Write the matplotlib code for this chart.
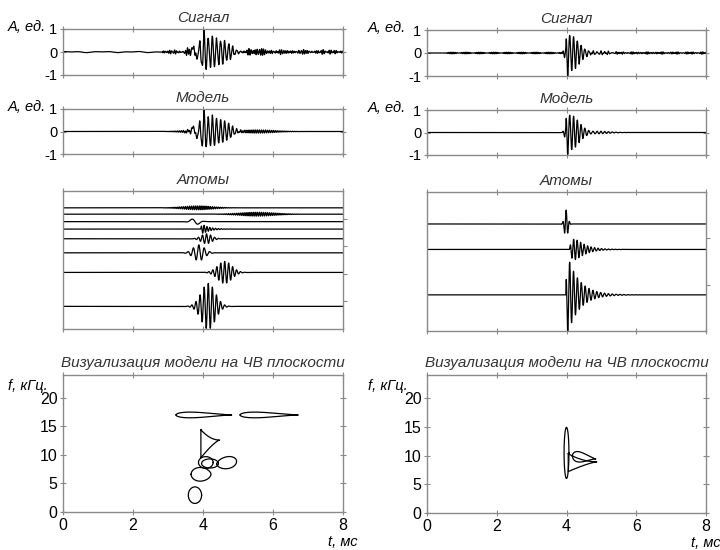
import numpy as np
import matplotlib
matplotlib.use('Agg')
import matplotlib.pyplot as plt

plt.rcParams['font.family'] = ['Liberation Sans', 'DejaVu Sans']

# время, мс
t_lim = (0.0, 8.0)
dt = 0.002

# атомы левого сигнала (t0 мс, f кГц, ширина мс, амплитуда, смещение на графике)
left_kind = ['gauss', 'gauss', 'gauss', 'damped', 'gauss', 'gauss', 'gauss', 'gauss']
left_t0 = [3.85, 5.55, 3.77, 3.93, 4.10, 3.88, 4.62, 4.15]
left_freq = [17.0, 17.0, 2.6, 12.3, 8.6, 6.4, 8.8, 8.5]
left_width = [0.42, 0.50, 0.12, 0.20, 0.15, 0.16, 0.20, 0.20]
left_rise = [0, 0, 0, 0.03, 0, 0, 0, 0]
left_amp = [0.07, 0.07, 0.12, 0.15, 0.18, 0.29, 0.40, 0.83]
left_phase = [0, 0, np.pi / 2, 0, 0, 0, 0, 0]
left_base = [4.39, 4.16, 3.89, 3.62, 3.27, 2.76, 2.05, 0.82]

# остаток (шум) левого сигнала: начало, конец, f, амплитуда
left_noise_t0 = [0.0, 0.0, 2.85, 2.85, 2.85, 2.85, 2.85, 2.85]
left_noise_t1 = [2.9, 2.9, 8.0, 8.0, 8.0, 8.0, 8.0, 8.0]
left_noise_f = [1.1, 2.3, 16.0, 19.3, 12.7, 21.7, 14.1, 17.6]
left_noise_amp = [0.015, 0.012, 0.03, 0.025, 0.02, 0.025, 0.02, 0.02]

# атомы правого сигнала
right_kind = ['gauss', 'damped', 'damped']
right_t0 = [3.99, 4.08, 3.98]
right_freq = [10.4, 10.0, 9.0]
right_width = [0.05, 0.28, 0.34]
right_rise = [0, 0.12, 0.02]
right_amp = [0.30, 0.22, 0.78]
right_phase = [0, 0, np.pi / 2]
right_base = [2.31, 1.76, 0.78]

right_noise_t0 = [0.5, 0.5, 4.5]
right_noise_t1 = [8.0, 8.0, 8.0]
right_noise_f = [18.5, 21.0, 14.0]
right_noise_amp = [0.02, 0.015, 0.02]

# контуры на ЧВ плоскости
left_tf_kind = ['tear', 'tear', 'onset', 'ellipse', 'ellipse', 'egg', 'egg_l', 'ellipse']
left_tf_t_lo = [3.23, 5.06, 3.94, 3.87, 3.96, 3.66, 4.39, 3.58]
left_tf_t_hi = [4.82, 6.72, 4.47, 4.29, 4.44, 4.23, 4.96, 3.96]
left_tf_f_lo = [16.5, 16.5, 9.5, 7.65, 7.7, 5.4, 7.8, 1.5]
left_tf_f_hi = [17.5, 17.5, 14.4, 9.7, 9.3, 7.8, 9.9, 4.4]
left_tf_f_tip = [17.0, 17.0, 12.6, 8.7, 8.5, 6.6, 8.4, 2.95]

right_tf_kind = ['ellipse', 'onset', 'tear']
right_tf_t_lo = [3.93, 4.05, 4.17]
right_tf_t_hi = [4.07, 4.87, 4.84]
right_tf_f_lo = [6.0, 7.2, 9.0]
right_tf_f_hi = [14.9, 10.3, 10.8]
right_tf_f_tip = [10.4, 8.9, 9.4]

GRAY = '#8a8a8a'
TXT = '#333333'
W, H = 720, 550


def atom(t, kind, t0, f, w, rise, a, ph):
    if kind == 'gauss':
        env = np.exp(-0.5 * ((t - t0) / w) ** 2)
        return a * env * np.cos(2 * np.pi * f * (t - t0) + ph)
    s = np.clip(t - t0, 0, None)
    env = (1 - np.exp(-s / rise)) * np.exp(-s / w)
    env = env / env.max()
    return a * env * np.cos(2 * np.pi * f * s + ph - np.pi / 2)


def build(t, kind, t0, f, w, rise, a, ph):
    return [atom(t, *p) for p in zip(kind, t0, f, w, rise, a, ph)]


def noise(t, t0, t1, f, a):
    out = np.zeros_like(t)
    for k, (s, e, fr, am) in enumerate(zip(t0, t1, f, a)):
        win = ((t >= s) & (t <= e)).astype(float)
        out += am * win * np.sin(2 * np.pi * fr * t + 1.3 * k)
    return out


def tf_outline(kind, tlo, thi, flo, fhi, ftip):
    if kind == 'ellipse':
        th = np.linspace(0, 2 * np.pi, 200)
        return ((tlo + thi) / 2 + (thi - tlo) / 2 * np.cos(th),
                (flo + fhi) / 2 + (fhi - flo) / 2 * np.sin(th))
    u = np.linspace(0, 1, 200)
    if kind == 'onset':
        up = ftip + (fhi - ftip) * (1 - u) ** 2
        lo = ftip - (ftip - flo) * (1 - u) ** 1.3
    else:
        p = 1.5 if kind == 'tear' else 0.6
        uu = u if kind != 'egg_l' else 1 - u
        h = np.sqrt(uu) * (1 - uu) ** p
        h = h / h.max() * (fhi - flo) / 2
        fc = (flo + fhi) / 2
        c = fc + (ftip - fc) * uu
        up, lo = c + h, c - h
    x = tlo + u * (thi - tlo)
    return (np.concatenate([x, x[::-1], x[:1]]),
            np.concatenate([up, lo[::-1], up[:1]]))


def add_ax(fig, x0, y0, x1, y1):
    ax = fig.add_axes([x0 / W, 1 - y1 / H, (x1 - x0) / W, (y1 - y0) / H])
    for s in ax.spines.values():
        s.set_color(GRAY)
        s.set_linewidth(1.0)
    ax.tick_params(direction='inout', length=4, color=GRAY, width=0.8,
                   top=True, right=True, labelsize=10.5, pad=2)
    ax.set_xlim(*t_lim)
    ax.set_xticks([0, 2, 4, 6, 8])
    return ax


def wave_ax(fig, box, t, y, title, title_y, lab_x, lab_y):
    ax = add_ax(fig, *box)
    ax.plot(t, y, color='black', lw=0.9)
    ax.set_ylim(-1, 1)
    ax.set_yticks([-1, 0, 1])
    ax.set_yticklabels(['-1', '0', '1'])
    ax.set_xticklabels([])
    fig.text((box[0] + box[2]) / 2 / W, 1 - title_y / H, title, style='italic',
             color=TXT, fontsize=11, ha='center', va='center')
    fig.text(lab_x / W, 1 - lab_y / H, 'A, ед.', style='italic', fontsize=10.5,
             ha='left', va='center')
    return ax


def column(fig, x0, x1, rows, atoms, base, n_div, nz, tf, lab_x):
    t = np.arange(t_lim[0], t_lim[1] + dt / 2, dt)
    parts = build(t, *atoms)
    model = np.sum(parts, axis=0)
    signal = model + noise(t, *nz)
    cx = (x0 + x1) / 2

    wave_ax(fig, (x0, rows[0][0], x1, rows[0][1]), t, signal, 'Сигнал', rows[0][0] - 11,
            lab_x, rows[0][0] - 2)
    wave_ax(fig, (x0, rows[1][0], x1, rows[1][1]), t, model, 'Модель', rows[1][0] - 11,
            lab_x, rows[1][0] - 2)

    ax = add_ax(fig, x0, rows[2][0], x1, rows[2][1])
    for p, b in zip(parts, base):
        ax.plot(t, p + b, color='black', lw=0.9)
    ax.set_ylim(0, n_div)
    ax.yaxis.tick_right()
    ax.tick_params(axis='y', direction='out', length=3)
    ax.set_yticks(range(1, n_div))
    ax.set_yticklabels([])
    ax.set_xticklabels([])
    fig.text(cx / W, 1 - (rows[2][0] - 11) / H, 'Атомы', style='italic', color=TXT,
             fontsize=11, ha='center', va='center')

    ax = add_ax(fig, x0, rows[3][0], x1, rows[3][1])
    for shape in zip(*tf):
        xs, ys = tf_outline(*shape)
        ax.plot(xs, ys, color='black', lw=0.9)
    ax.set_ylim(0, 24)
    ax.set_yticks([0, 5, 10, 15, 20])
    ax.tick_params(labelsize=11.5)
    fig.text(cx / W, 1 - (rows[3][0] - 12) / H, 'Визуализация модели на ЧВ плоскости',
             style='italic', color=TXT, fontsize=11, ha='center', va='center')
    fig.text(lab_x / W, 1 - (rows[3][0] + 11) / H, 'f, кГц.', style='italic',
             fontsize=10.5, ha='left', va='center')
    fig.text(x1 / W + 0.02, 1 - (rows[3][1] + 30) / H, 't, мс', style='italic',
             fontsize=10.5, ha='right', va='center')


def main():
    fig = plt.figure(figsize=(7.2, 5.5), dpi=100)

    column(fig, 63, 343, [(29, 75), (109, 154), (191, 329), (375, 512)],
           (left_kind, left_t0, left_freq, left_width, left_rise, left_amp, left_phase),
           left_base, 5,
           (left_noise_t0, left_noise_t1, left_noise_f, left_noise_amp),
           (left_tf_kind, left_tf_t_lo, left_tf_t_hi, left_tf_f_lo, left_tf_f_hi, left_tf_f_tip),
           8)
    column(fig, 427, 706, [(30, 76), (110, 155), (192, 331), (375, 513)],
           (right_kind, right_t0, right_freq, right_width, right_rise, right_amp, right_phase),
           right_base, 3,
           (right_noise_t0, right_noise_t1, right_noise_f, right_noise_amp),
           (right_tf_kind, right_tf_t_lo, right_tf_t_hi, right_tf_f_lo, right_tf_f_hi, right_tf_f_tip),
           368)

    fig.savefig('out.png', dpi=100)


if __name__ == '__main__':
    main()
